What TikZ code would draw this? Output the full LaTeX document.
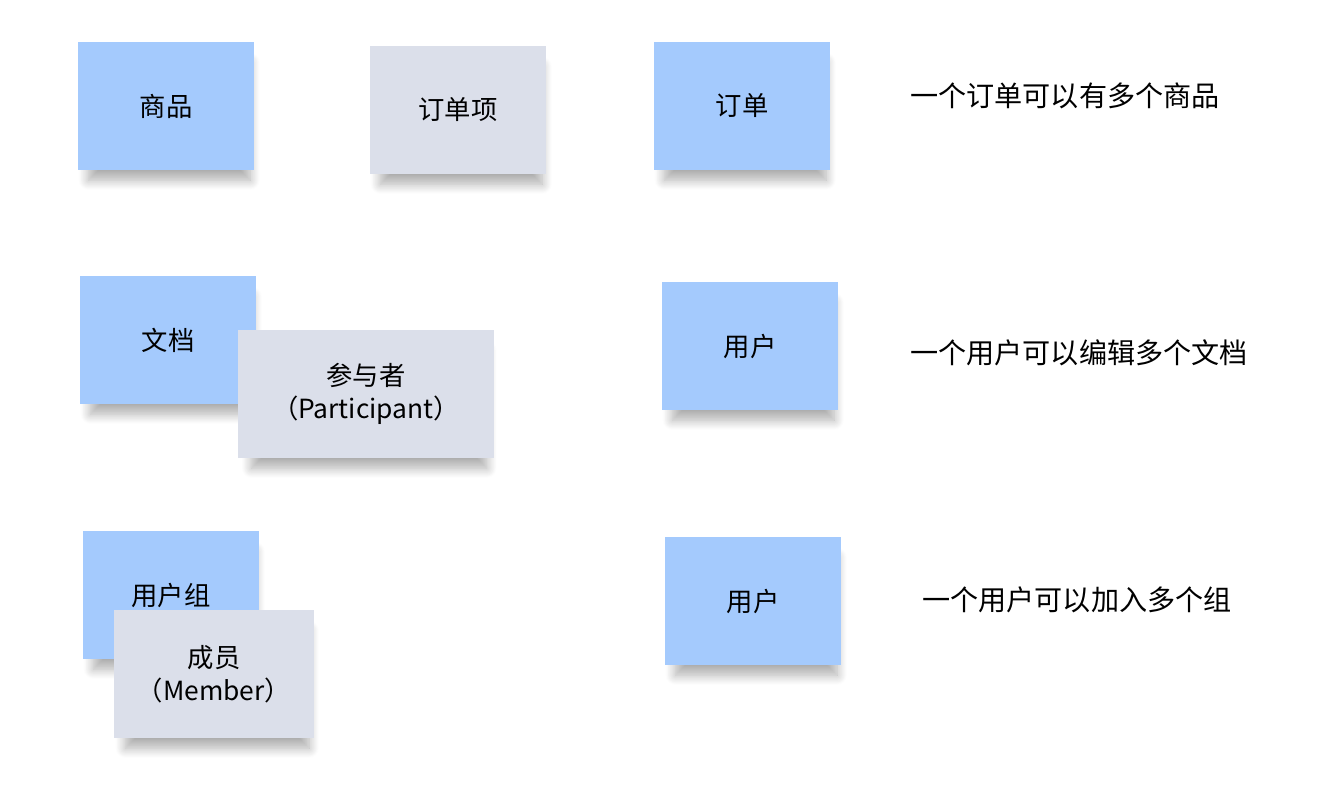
\documentclass[tikz,border=0pt]{standalone}
\usepackage{fontspec}
\newfontfamily\cjk{Noto Sans CJK SC}
\usetikzlibrary{positioning,shadows.blur}

\definecolor{entityblue}{HTML}{A4CAFD}
\definecolor{rolegrey}{HTML}{DBDFEA}

\tikzset{%
  % Specifications for style of nodes:
         card/.style = {rectangle, minimum width=3.52cm, minimum height=2.56cm, inner sep=0pt, align=center,
                        font=\cjk\fontsize{15}{19}\selectfont,
                        blur shadow={shadow xshift=2pt, shadow yshift=-9.5pt, shadow scale=0.92, shadow opacity=32, shadow blur radius=6pt, shadow blur steps=12}},
       entity/.style = {card, fill=entityblue},
         role/.style = {card, fill=rolegrey},
         note/.style = {anchor=west, inner sep=0pt, font=\cjk\fontsize{16}{19}\selectfont},
}

\begin{document}
\begin{tikzpicture}[x=0.02cm, y=-0.02cm]
    \useasboundingbox (0,0) rectangle (1340,792);

    % Draw nodes
    \node (goods)       [entity] at (166,106)                         {商品};
    \node (orderitem)   [role]   at (458,110)                         {订单项};
    \node (order)       [entity] at (742,106)                         {订单};
    \node (noteorder)   [note]   at (910,96)                          {一个订单可以有多个商品};

    \node (doc)         [entity] at (168,340)                         {文档};
    \node (participant) [role, minimum width=5.12cm] at (366,394)     {参与者\\（Participant）};
    \node (user)        [entity] at (750,346)                         {用户};
    \node (notedoc)     [note]   at (910,353)                         {一个用户可以编辑多个文档};

    \node (group)       [entity] at (171,595)                         {用户组};
    \node (member)      [role, minimum width=4cm] at (214,674)        {成员\\（Member）};
    \node (groupuser)   [entity] at (753,601)                         {用户};
    \node (notegroup)   [note]   at (922,600)                         {一个用户可以加入多个组};

\end{tikzpicture}
\end{document}
